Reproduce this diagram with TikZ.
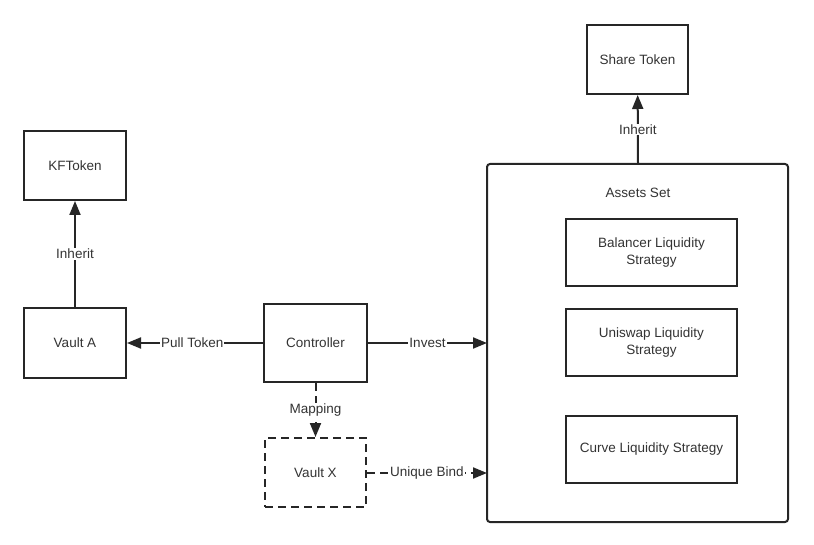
\documentclass[tikz,border=0pt]{standalone}
\usepackage{fontspec}
\setmainfont{Liberation Sans}
\usetikzlibrary{arrows.meta}
\begin{document}
\begin{tikzpicture}[x=1pt,y=-1pt,
  box/.style={draw=black!85,line width=2pt,align=center,font=\fontsize{13.5}{16.5}\selectfont,text=black!80,inner sep=0pt},
  conn/.style={draw=black!85,line width=2pt,-{Triangle[length=14pt,width=11pt]}},
  lbl/.style={fill=white,font=\fontsize{13.5}{16.5}\selectfont,text=black!80,inner sep=1pt},
  dsh/.style={dash pattern=on 8pt off 5pt}]
\useasboundingbox (0,0) rectangle (814,545);
% boxes
\node[box,minimum width=101pt,minimum height=69pt] (share) at (637.5,59.5) {Share Token};
\node[box,minimum width=102pt,minimum height=69pt] (kf) at (75,165.5) {KFToken};
\node[box,minimum width=102pt,minimum height=70pt] (va) at (75,343) {Vault A};
\node[box,minimum width=103pt,minimum height=78pt] (ctrl) at (315.5,343) {Controller};
\node[box,dsh,minimum width=101pt,minimum height=69pt] (vx) at (315.5,472.5) {Vault X};
\draw[draw=black!85,line width=2pt,rounded corners=3pt] (487,164) rectangle (788,522);
\coordinate (asl) at (487,343);
\coordinate (asl2) at (487,473);
\coordinate (ast) at (638,164);
\node[lbl] (aslabel) at (638,193) {Assets Set};
\node[box,minimum width=171pt,minimum height=67pt] (bal) at (651.5,252.5) {Balancer Liquidity\\Strategy};
\node[box,minimum width=171pt,minimum height=67pt] (uni) at (651.5,342.5) {Uniswap Liquidity\\Strategy};
\node[box,minimum width=171pt,minimum height=67pt] (curve) at (651.5,449.5) {Curve Liquidity Strategy};
% connectors
\draw[conn] (ast) -- node[lbl] {Inherit} (share);
\draw[conn] (va) -- node[lbl,pos=0.5] {Inherit} (kf);
\draw[conn] (ctrl) -- node[lbl,pos=0.52] {Pull Token} (va);
\draw[conn] (ctrl) -- node[lbl,pos=0.5] {Invest} (asl);
\draw[conn,dsh] (ctrl) -- node[lbl,pos=0.5] {Mapping} (vx);
\draw[conn,dsh] (vx.east |- asl2) -- node[lbl,pos=0.5] {Unique Bind} (asl2);
\end{tikzpicture}
\end{document}
